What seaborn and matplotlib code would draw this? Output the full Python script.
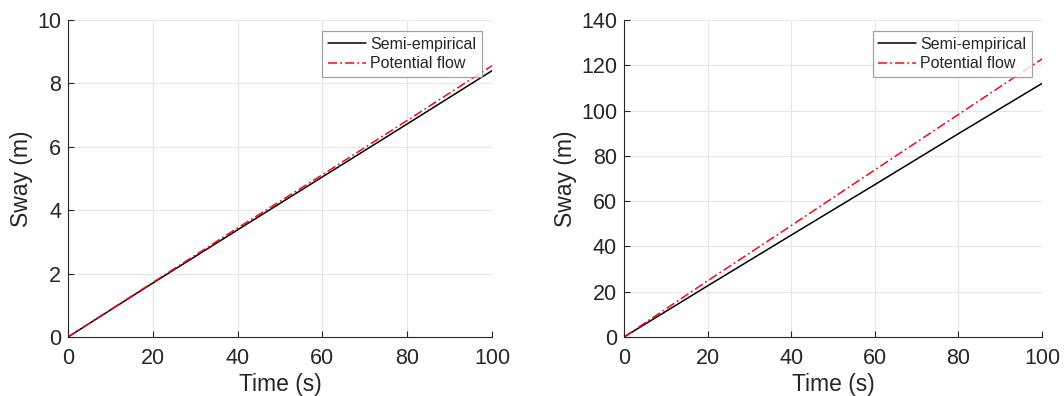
import matplotlib
matplotlib.use("Agg")
import matplotlib.pyplot as plt
import seaborn as sns
import pandas as pd

# Data
time_s = [0, 20, 40, 60, 80, 100]
left_semi = [0, 1.70, 3.38, 5.05, 6.72, 8.40]
left_pot = [0, 1.72, 3.44, 5.12, 6.83, 8.56]
right_semi = [0, 22.6, 45.0, 67.3, 89.8, 112.0]
right_pot = [0, 24.8, 49.2, 73.8, 98.3, 122.8]

left_yticks = [0, 2, 4, 6, 8, 10]
right_yticks = [0, 20, 40, 60, 80, 100, 120, 140]
xticks = [0, 20, 40, 60, 80, 100]

series_names = ["Semi-empirical", "Potential flow"]

sns.set_style("white")
plt.rcParams['font.family'] = ['Liberation Sans', 'DejaVu Sans']

fig = plt.figure(figsize=(10.64, 3.96), dpi=100)
ax1 = fig.add_axes([0.0639, 0.149, 0.3985, 0.8005])
ax2 = fig.add_axes([0.5865, 0.149, 0.3929, 0.8005])

text_col = '#262626'

for ax, semi, pot, yt in [(ax1, left_semi, left_pot, left_yticks),
                          (ax2, right_semi, right_pot, right_yticks)]:
    df = pd.DataFrame({"Time": time_s * 2,
                       "Sway": semi + pot,
                       "Series": [series_names[0]] * len(time_s) + [series_names[1]] * len(time_s)})
    sns.lineplot(data=df, x="Time", y="Sway", hue="Series", style="Series",
                 palette={series_names[0]: 'black', series_names[1]: '#ee0a1e'},
                 dashes={series_names[0]: "", series_names[1]: (6, 2, 1.2, 2)},
                 linewidth=1.1, ax=ax, legend=True)
    ax.set_xlim(0, 100)
    ax.set_ylim(yt[0], yt[-1])
    ax.set_xticks(xticks)
    ax.set_yticks(yt)
    ax.grid(True, color='#e6e6e6', linewidth=0.8)
    ax.set_axisbelow(True)
    for s in ['top', 'right']:
        ax.spines[s].set_visible(False)
    for s in ['left', 'bottom']:
        ax.spines[s].set_color('#262626')
        ax.spines[s].set_linewidth(0.8)
    ax.tick_params(direction='in', length=4, width=0.8, colors=text_col,
                   labelsize=15.5, left=True, bottom=True)
    ax.tick_params(axis='x', pad=8)
    ax.tick_params(axis='y', pad=5)
    ax.set_xlabel("Time (s)", fontsize=16.5, color=text_col, labelpad=3)
    ax.set_ylabel("Sway (m)", fontsize=16.5, color=text_col, labelpad=3)
    leg = ax.legend(loc='upper right', bbox_to_anchor=(0.976, 0.965), borderaxespad=0,
                    fontsize=11.5, frameon=True, fancybox=False, handlelength=2.4,
                    handletextpad=0.25, borderpad=0.35, labelspacing=0.3)
    leg.get_frame().set_edgecolor('#8c8c8c')
    leg.get_frame().set_linewidth(0.9)
    for t in leg.get_texts():
        t.set_color(text_col)

fig.savefig("out.png", dpi=100)
